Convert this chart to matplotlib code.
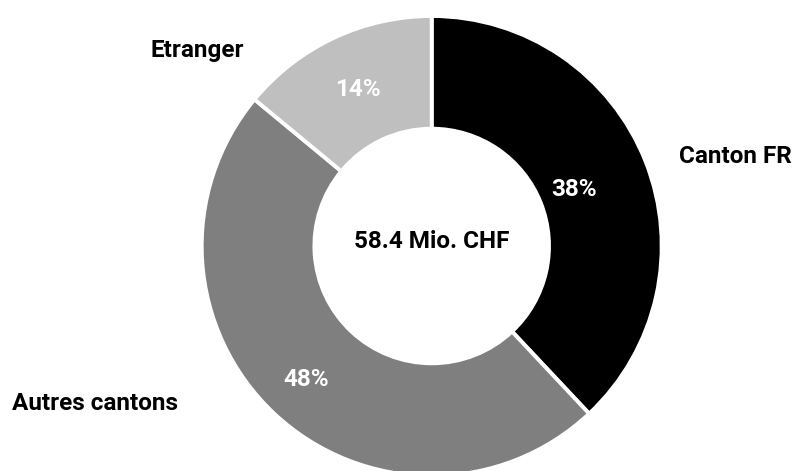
import matplotlib
matplotlib.use("Agg")
import matplotlib.pyplot as plt
import numpy as np

categories = ["Canton FR", "Autres cantons", "Etranger"]
shares = [38, 48, 14]
colors = ["#000000", "#7f7f7f", "#bfbfbf"]
total_label = "58.4 Mio. CHF"

# layout: category label positions (data units) and radial distance of the % labels
label_pos = [(1.32, 0.387), (-1.464, -0.683), (-1.02, 0.852)]
pct_dist = [0.665, 0.795, 0.751]

plt.rcParams["font.family"] = ["Roboto", "DejaVu Sans"]

fig = plt.figure(figsize=(7.93, 4.71), dpi=100)
ax = fig.add_axes([201.7 / 793, -5 / 471, 460 / 793, 460 / 471])

wedges, _ = ax.pie(
    shares,
    colors=colors,
    startangle=90,
    counterclock=False,
    radius=1,
    wedgeprops=dict(width=0.49, edgecolor="white", linewidth=2.8),
)
ax.set_xlim(-1, 1)
ax.set_ylim(-1, 1)
ax.axis("off")

for w, d, val in zip(wedges, pct_dist, shares):
    ang = np.deg2rad((w.theta1 + w.theta2) / 2)
    ax.text(d * np.cos(ang), d * np.sin(ang), f"{val}%", color="white",
            fontsize=17.5, fontweight="bold", ha="center", va="center")

for (x, y), name in zip(label_pos, categories):
    ax.text(x, y, name, fontsize=17.5, fontweight="bold", ha="center",
            va="center", clip_on=False)

ax.text(0, 0.02, total_label, fontsize=17.5, fontweight="bold",
        ha="center", va="center")

fig.savefig("out.png", dpi=100)
